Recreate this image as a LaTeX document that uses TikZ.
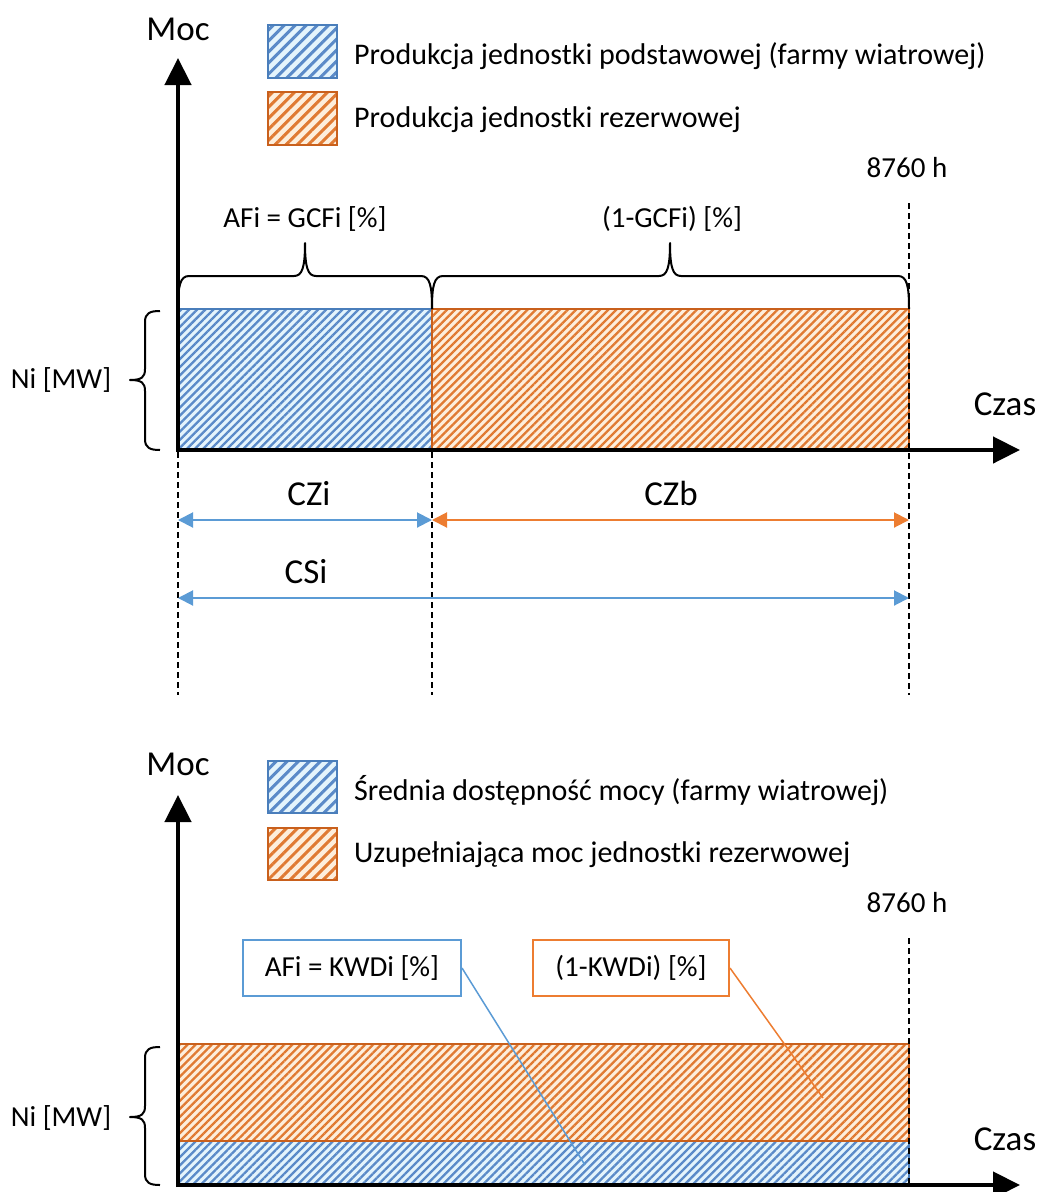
\documentclass[tikz,border=0pt]{standalone}
\usepackage{fontspec}
\setmainfont{Carlito}
\usetikzlibrary{arrows.meta,patterns.meta}
\definecolor{hBlue}{HTML}{5A8AC8}
\definecolor{hBlueBg}{HTML}{E4F4FC}
\definecolor{hOrange}{HTML}{E07A32}
\definecolor{hOrangeBg}{HTML}{FDEEDC}
\definecolor{eBlue}{HTML}{4A7EBB}
\definecolor{eOrange}{HTML}{C9601C}
\definecolor{aBlue}{HTML}{5B9BD5}
\definecolor{aOrange}{HTML}{ED7D31}
\begin{document}
\begin{tikzpicture}[x=1pt,y=-1pt,
  small/.style={font=\fontsize{29}{34}\selectfont, inner sep=0pt},
  legtext/.style={font=\fontsize{30}{36}\selectfont, inner sep=0pt},
  large/.style={font=\fontsize{35}{42}\selectfont, inner sep=0pt},
  axisarrow/.style={line width=4.5pt, -{Triangle[width=26pt,length=27pt]}},
  guide/.style={line width=1.6pt, dash pattern=on 6pt off 4pt},
  bracepath/.style={line width=2pt, line join=round},
  dimtips/.style={line width=2pt, {Triangle[width=15pt,length=15pt]}-{Triangle[width=15pt,length=15pt]}},
  hatchB/.style={preaction={fill=hBlueBg}, pattern={Lines[angle=45,distance=5.7pt,line width=2.3pt]}, pattern color=hBlue, draw=eBlue, line width=2pt},
  hatchO/.style={preaction={fill=hOrangeBg}, pattern={Lines[angle=45,distance=5.7pt,line width=2.3pt]}, pattern color=hOrange, draw=eOrange, line width=2pt},
  legB/.style={preaction={fill=hBlueBg}, pattern={Lines[angle=45,distance=7.8pt,line width=3pt]}, pattern color=hBlue, draw=eBlue, line width=2pt},
  legO/.style={preaction={fill=hOrangeBg}, pattern={Lines[angle=45,distance=7.8pt,line width=3pt]}, pattern color=hOrange, draw=eOrange, line width=2pt},
  callB/.style={small, draw=aBlue, line width=2pt, fill=white, minimum width=218pt, minimum height=56pt},
  callO/.style={small, draw=aOrange, line width=2pt, fill=white, minimum width=196pt, minimum height=56pt},
]
\useasboundingbox (0,0) rectangle (1042,1192);

% ================= TOP DIAGRAM =================
% legend
\draw[legB] (268,25) rectangle (337,78);
\draw[legO] (268,92) rectangle (337,145);
\node[legtext, anchor=base west] (legA1) at (354,64) {Produkcja jednostki podstawowej (farmy wiatrowej)};
\node[legtext, anchor=base west] (legA2) at (354,127) {Produkcja jednostki rezerwowej};

% areas
\draw[hatchB] (178,309) rectangle (432,450);
\draw[hatchO] (432,309) rectangle (909,450);

% guides
\coordinate (g1a) at (178,452); \coordinate (g1b) at (178,695);
\coordinate (g2a) at (432,452); \coordinate (g2b) at (432,695);
\coordinate (g3a) at (909,203); \coordinate (g3b) at (909,695);
\draw[guide] (g1a) -- (g1b);
\draw[guide] (g2a) -- (g2b);
\draw[guide] (g3a) -- (g3b);

% axes
\coordinate (yA0) at (178,452); \coordinate (yA1) at (178,58);
\coordinate (xA0) at (176,450); \coordinate (xA1) at (1020,450);
\draw[axisarrow] (yA0) -- (yA1);
\draw[axisarrow] (xA0) -- (xA1);
\node[large, anchor=base] (mocA) at (178,40) {Moc};
\node[large, anchor=base] (czasA) at (1005,415) {Czas};
\node[small, anchor=base] (hA) at (907,177) {8760 h};

% top braces
\draw[bracepath] (178,309) .. controls (178,286) and (180,276) .. (189,276) -- (294,276)
  .. controls (302,276) and (305,268) .. (305,243)
  .. controls (305,268) and (308,276) .. (316,276) -- (421,276)
  .. controls (430,276) and (432,286) .. (432,309);
\draw[bracepath] (432,309) .. controls (432,286) and (434,276) .. (443,276) -- (659,276)
  .. controls (667,276) and (670,268) .. (670,243)
  .. controls (670,268) and (673,276) .. (681,276) -- (898,276)
  .. controls (907,276) and (909,286) .. (909,309);
\node[small, anchor=base] (afA) at (305,227) {AFi = GCFi [\%]};
\node[small, anchor=base] (gcA) at (672,227) {(1-GCFi) [\%]};

% left brace
\draw[bracepath] (160,311) .. controls (150,311) and (145,313) .. (145,322) -- (145,369)
  .. controls (145,377) and (142,380) .. (130,380)
  .. controls (142,380) and (145,383) .. (145,391) -- (145,439)
  .. controls (145,448) and (150,450) .. (160,450);
\node[small, anchor=base] (niA) at (61,388) {Ni [MW]};

% dimension arrows
\coordinate (d1a) at (178,520); \coordinate (d1b) at (432,520);
\coordinate (d2a) at (432,520); \coordinate (d2b) at (909,520);
\coordinate (d3a) at (178,598); \coordinate (d3b) at (909,598);
\draw[dimtips, aBlue] (d1a) -- (d1b);
\draw[dimtips, aOrange] (d2a) -- (d2b);
\draw[dimtips, aBlue] (d3a) -- (d3b);
\node[large, anchor=base] (czi) at (309,505) {CZi};
\node[large, anchor=base] (czb) at (671,505) {CZb};
\node[large, anchor=base] (csi) at (306,583) {CSi};

% ================= BOTTOM DIAGRAM =================
\draw[legB] (268,761) rectangle (337,813);
\draw[legO] (268,828) rectangle (337,880);
\node[legtext, anchor=base west] (legB1) at (354,800) {Średnia dostępność mocy (farmy wiatrowej)};
\node[legtext, anchor=base west] (legB2) at (354,862) {Uzupełniająca moc jednostki rezerwowej};

\draw[hatchB] (178,1141) rectangle (909,1185);
\draw[hatchO] (178,1044) rectangle (909,1141);

\coordinate (g4a) at (909,938); \coordinate (g4b) at (909,1185);
\draw[guide] (g4a) -- (g4b);

\coordinate (yB0) at (178,1187); \coordinate (yB1) at (178,795);
\coordinate (xB0) at (176,1185); \coordinate (xB1) at (1020,1185);
\draw[axisarrow] (yB0) -- (yB1);
\draw[axisarrow] (xB0) -- (xB1);
\node[large, anchor=base] (mocB) at (178,775) {Moc};
\node[large, anchor=base] (czasB) at (1005,1150) {Czas};
\node[small, anchor=base] (hB) at (907,912) {8760 h};

\draw[bracepath] (160,1047) .. controls (150,1047) and (145,1049) .. (145,1058) -- (145,1106)
  .. controls (145,1114) and (142,1117) .. (130,1117)
  .. controls (142,1117) and (145,1120) .. (145,1128) -- (145,1174)
  .. controls (145,1183) and (150,1185) .. (160,1185);
\node[small, anchor=base] (niB) at (61,1126) {Ni [MW]};

% callouts
\node[callB] (cb) at (352,968) {AFi = KWDi [\%]};
\node[callO] (co) at (631,968) {(1-KWDi) [\%]};
\coordinate (cbEnd) at (585,1165);
\coordinate (coEnd) at (823,1098);
\draw[aBlue, line width=1.5pt] (cb.east) -- (cbEnd);
\draw[aOrange, line width=1.5pt] (co.east) -- (coEnd);
\end{tikzpicture}
\end{document}
